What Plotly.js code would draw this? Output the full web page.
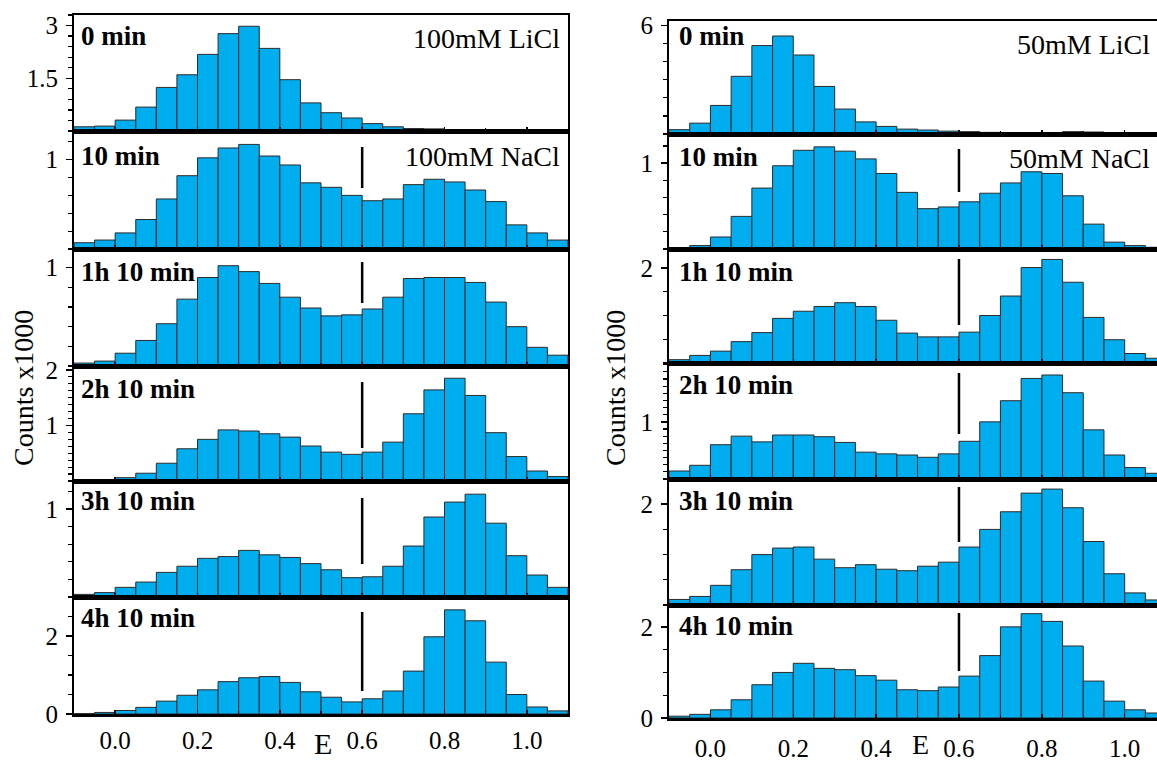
<!DOCTYPE html>
<html>
<head>
<meta charset="utf-8">
<script src="https://cdn.plot.ly/plotly-3.0.1.min.js"></script>
<style>html,body{margin:0;padding:0;background:#fff;}#chart{width:1157px;height:763px;}</style>
</head>
<body>
<div id="chart"></div>
<script>
// FRET efficiency bin centres (bin width 0.05)
const E = [-0.075,-0.025,0.025,0.075,0.125,0.175,0.225,0.275,0.325,0.375,0.425,0.475,
           0.525,0.575,0.625,0.675,0.725,0.775,0.825,0.875,0.925,0.975,1.025,1.075];

// Left column: 100mM LiCl -> 100mM NaCl (counts x1000)
const L_0min  = [0.12,0.14,0.31,0.68,1.24,1.60,2.18,2.77,2.98,2.35,1.46,0.80,0.52,0.37,0.21,0.12,0.07,0.06,0.04,0.02,0.01,0,0,0];
const L_10min = [0.07,0.10,0.18,0.33,0.56,0.82,1.02,1.13,1.17,1.04,0.94,0.74,0.69,0.60,0.54,0.56,0.72,0.78,0.75,0.66,0.53,0.27,0.18,0.10];
const L_1h10  = [0.03,0.05,0.13,0.26,0.43,0.68,0.90,1.02,0.96,0.84,0.70,0.59,0.51,0.52,0.58,0.70,0.89,0.90,0.90,0.85,0.65,0.40,0.19,0.11];
const L_2h10  = [0.01,0.02,0.06,0.14,0.32,0.58,0.75,0.92,0.90,0.85,0.79,0.63,0.52,0.48,0.52,0.70,1.21,1.64,1.85,1.54,0.87,0.44,0.18,0.08];
const L_3h10  = [0.03,0.05,0.11,0.17,0.28,0.35,0.44,0.46,0.53,0.48,0.45,0.38,0.31,0.22,0.23,0.35,0.58,0.91,1.08,1.17,0.84,0.47,0.25,0.11];
const L_4h10  = [0.01,0.04,0.09,0.17,0.33,0.48,0.62,0.83,0.93,0.96,0.81,0.57,0.43,0.31,0.39,0.59,1.10,1.98,2.67,2.39,1.33,0.50,0.18,0.08];

// Right column: 50mM LiCl -> 50mM NaCl (counts x1000)
const R_0min  = [0.24,0.60,1.58,3.19,4.89,5.42,4.37,2.63,1.38,0.67,0.42,0.27,0.22,0.16,0.13,0.09,0.05,0.04,0.05,0.13,0.11,0.05,0.04,0.03];
const R_10min = [0.01,0.04,0.14,0.38,0.71,0.97,1.15,1.19,1.14,1.05,0.88,0.66,0.47,0.49,0.55,0.65,0.77,0.90,0.88,0.62,0.29,0.08,0.04,0.02];
const R_1h10  = [0.07,0.16,0.25,0.45,0.64,0.94,1.09,1.19,1.27,1.19,0.90,0.63,0.55,0.55,0.65,1.00,1.41,2.01,2.18,1.70,0.96,0.49,0.20,0.10];
const R_2h10  = [0.14,0.24,0.60,0.75,0.65,0.77,0.77,0.74,0.64,0.47,0.44,0.42,0.38,0.44,0.66,1.00,1.37,1.76,1.82,1.51,0.86,0.42,0.20,0.10];
const R_3h10  = [0.11,0.17,0.39,0.70,1.00,1.13,1.15,0.91,0.74,0.80,0.71,0.68,0.77,0.85,1.15,1.50,1.85,2.22,2.30,1.93,1.26,0.62,0.24,0.10];
const R_4h10  = [0.04,0.08,0.18,0.40,0.73,1.00,1.20,1.09,1.06,0.93,0.83,0.62,0.60,0.68,0.92,1.37,2.00,2.29,2.12,1.58,0.81,0.37,0.18,0.11];

const timeLabels = ["0 min","10 min","1h 10 min","2h 10 min","3h 10 min","4h 10 min"];
const leftSeries  = [L_0min,L_10min,L_1h10,L_2h10,L_3h10,L_4h10];
const rightSeries = [R_0min,R_10min,R_1h10,R_2h10,R_3h10,R_4h10];
const leftSalt  = ["100mM LiCl","100mM NaCl"];
const rightSalt = ["50mM LiCl","50mM NaCl"];
const xTickVals = [0.0,0.2,0.4,0.6,0.8,1.0];
const yTickLeft  = [[1.5,3],[1],[1],[1,2],[1],[0,2]];
const yTickRight = [[6],[1],[2],[1],[2],[0,2]];

// ---------- layout geometry (pixels) ----------
const W = 1157, H = 763;
const fx = p => p / W;
const fy = p => 1 - p / H;
const FONT = "Liberation Serif";

const cols = [
  {x0:74, x1:568, range:[-0.1,1.1], mirrorY:true,
   tops:[15,131,249,366,481,597], bots:[131,249,366,481,597,714],
   yr:[3.3,1.32,1.19,2.07,1.32,3.0], minor:[0.3,0.2,0.2,0.125,0.2,0.5],
   series:leftSeries, ticks:yTickLeft, salt:leftSalt,
   timeX:79, timeY:[36,156,272,389,501,618],
   saltX:562, saltY:[38,157],
   dash:[null,[147,188],[262,303],[382,448],[498,564],[612,691]],
   eX:323, eY:743, eS:30, cX:23, cY:388, xstand:2},
  {x0:669, x1:1157, range:[-0.1,1.078], mirrorY:false,
   tops:[21,134,249,363,479,605], bots:[134,249,363,479,605,718],
   yr:[6.25,1.34,2.4,2.03,2.5,2.48], minor:[1,0.2,0.5,0.125,0.5,0.5],
   series:rightSeries, ticks:yTickRight, salt:rightSalt,
   timeX:677, timeY:[36,157,272,385,501,626],
   saltX:1152, saltY:[44,158],
   dash:[null,[149,192],[259,325],[373,434],[487,542],[613,671]],
   eX:920, eY:744, eS:28, cX:615, cY:388, xstand:6}
];

const data = [];
const layout = {
  width: W, height: H,
  margin: {l:0, r:0, t:0, b:0, pad:0},
  paper_bgcolor: "#ffffff", plot_bgcolor: "#ffffff",
  showlegend: false, bargap: 0,
  font: {family: FONT, color: "#000"},
  annotations: [], shapes: []
};

let n = 0;
cols.forEach((c, ci) => {
  for (let i = 0; i < 6; i++) {
    n++;
    const xa = "x" + (n === 1 ? "" : n), ya = "y" + (n === 1 ? "" : n);
    const xk = "xaxis" + (n === 1 ? "" : n), yk = "yaxis" + (n === 1 ? "" : n);
    data.push({
      type: "bar", x: E, y: c.series[i], width: 0.05,
      xaxis: xa, yaxis: ya,
      marker: {color: "#00ADEF", line: {color: "#2b2b2b", width: 1}},
      hoverinfo: "x+y"
    });
    const bottom = (i === 5);
    layout[xk] = {
      domain: [fx(c.x0), fx(c.x1)], range: c.range, anchor: ya,
      showline: true, linecolor: "#000", linewidth: 2.5, mirror: true,
      ticks: "inside", ticklen: 4, tickwidth: 1.5, tickcolor: "#000",
      tickmode: "array", tickvals: xTickVals, tickformat: ".1f",
      minor: {tickmode: "linear", tick0: 0, dtick: 0.1, ticks: "inside", ticklen: 3, tickwidth: 1.2, tickcolor: "#000"},
      showticklabels: bottom, ticklabelstandoff: c.xstand,
      tickfont: {family: FONT, size: 25, color: "#000"},
      showgrid: false, zeroline: false, fixedrange: true
    };
    layout[yk] = {
      domain: [fy(c.bots[i]), fy(c.tops[i])], range: [0, c.yr[i]], anchor: xa,
      showline: true, linecolor: "#000", linewidth: 2, mirror: c.mirrorY,
      ticks: "outside", ticklen: 6, tickwidth: 1.5, tickcolor: "#000",
      tickmode: "array", tickvals: c.ticks[i],
      minor: {tickmode: "linear", tick0: 0, dtick: c.minor[i], ticks: "outside", ticklen: 4, tickwidth: 1.2, tickcolor: "#000"},
      ticklabelstandoff: 3,
      tickfont: {family: FONT, size: 25, color: "#000"},
      showgrid: false, zeroline: false, fixedrange: true
    };
    // time label
    layout.annotations.push({
      xref: "paper", yref: "paper", x: fx(c.timeX), y: fy(c.timeY[i]),
      xanchor: "left", yanchor: "middle", showarrow: false,
      text: "<b>" + timeLabels[i] + "</b>",
      font: {family: FONT, size: 27, color: "#000"}
    });
    // 0.6 marker
    if (c.dash[i]) {
      layout.shapes.push({
        type: "line", xref: xa, yref: "paper",
        x0: 0.6, x1: 0.6, y0: fy(c.dash[i][1]), y1: fy(c.dash[i][0]),
        line: {color: "#000", width: 2.5}
      });
    }
  }
  // salt labels
  c.salt.forEach((s, k) => {
    layout.annotations.push({
      xref: "paper", yref: "paper", x: fx(c.saltX), y: fy(c.saltY[k]),
      xanchor: "right", yanchor: "middle", showarrow: false, text: s,
      font: {family: FONT, size: 28, color: "#000"}
    });
  });
  // axis titles
  layout.annotations.push({
    xref: "paper", yref: "paper", x: fx(c.eX), y: fy(c.eY),
    xanchor: "center", yanchor: "middle", showarrow: false, text: "E",
    font: {family: FONT, size: c.eS, color: "#000"}
  });
  layout.annotations.push({
    xref: "paper", yref: "paper", x: fx(c.cX), y: fy(c.cY),
    xanchor: "center", yanchor: "middle", showarrow: false, textangle: -90,
    text: "Counts x1000",
    font: {family: FONT, size: 28, color: "#000"}
  });
});

Plotly.newPlot("chart", data, layout, {displayModeBar: false, staticPlot: true});
</script>
</body>
</html>
